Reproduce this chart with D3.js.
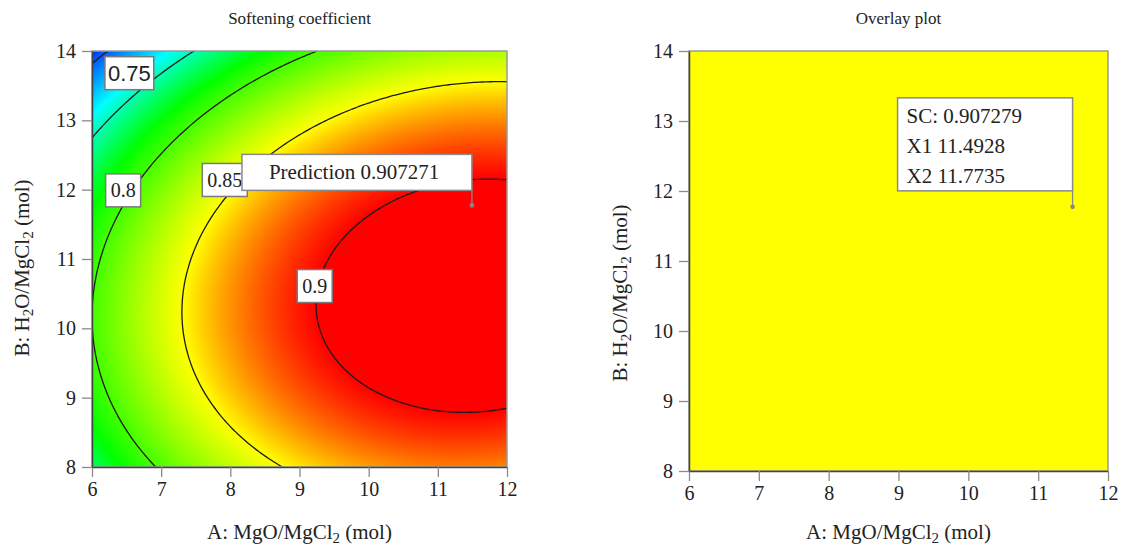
<!DOCTYPE html>
<html lang="en">
<head>
<meta charset="UTF-8">
<title>Softening coefficient / Overlay plot</title>
<script src="https://cdnjs.cloudflare.com/ajax/libs/d3/7.8.5/d3.min.js"></script>
<style>
  body { margin: 0; background: #fff; }
  svg { display: block; font-family: "Liberation Serif", "Times New Roman", serif; }
  .tick line { stroke: #8a8a8a; stroke-width: 1.3; }
  .domain { stroke: #444; stroke-width: 1.5; }
  .title { font-size: 17px; fill: #222; text-anchor: middle; }
  .axis-title { font-size: 21px; fill: #222; text-anchor: middle; }
</style>
</head>
<body>
<svg width="1121" height="546"></svg>
<script>
const aTicks = [6, 7, 8, 9, 10, 11, 12];
const bTicks = [8, 9, 10, 11, 12, 13, 14];
const contourLevels = [0.7, 0.75, 0.8, 0.85, 0.9];

// quadratic response surface, shape estimated from the drawn contours
const peakAt = [11.56, 10.47];          // A, B at the maximum
const peakValue = 0.9211;
const curvature = [0.00394, 0.0075, -0.000825];  // A², B², A·B

const colorStops = [0.69, 0.737, 0.782, 0.85, 0.9];
const colorRange = ["#0030ff", "#00ffff", "#00ff00", "#ffff00", "#ff0000"];

const contourLabels = [
  { text: "0.75", a: 6.54, b: 13.68, sans: true },
  { text: "0.8",  a: 6.45, b: 11.99 },
  { text: "0.85", a: 7.92, b: 12.14 },
  { text: "0.9",  a: 9.22, b: 10.61 }
];
const prediction = { a: 11.4928, b: 11.7735, value: "0.907271", overlay: "0.907279" };

function sc(a, b) {
  const u = a - peakAt[0], v = b - peakAt[1];
  return peakValue - curvature[0] * u * u - curvature[1] * v * v - curvature[2] * u * v;
}

const svg = d3.select("svg");
const color = d3.scaleLinear().domain(colorStops).range(colorRange).clamp(true);
const serif = "'Liberation Serif', 'Times New Roman', serif";

function axisTitle(g, x, y, parts, rotate) {
  const t = g.append("text").attr("class", "axis-title")
    .attr("transform", `translate(${x},${y})` + (rotate ? " rotate(-90)" : ""));
  parts.forEach(([s, sub], i) => {
    const sp = t.append("tspan").text(s);
    if (sub) sp.attr("font-size", "15px").attr("dy", 4);
    else if (i > 0) sp.attr("dy", -4);
  });
}

function panel(left, top, w, h, name) {
  const g = svg.append("g").attr("transform", `translate(${left},${top})`);
  const x = d3.scaleLinear().domain([6, 12]).range([0, w]);
  const y = d3.scaleLinear().domain([8, 14]).range([h, 0]);
  const clipId = "clip-" + name;
  g.append("clipPath").attr("id", clipId).append("rect").attr("width", w).attr("height", h);
  return { g, x, y, w, h, clipId };
}

function styleAxis(sel) {
  sel.selectAll(".tick text")
    .style("font-family", serif).style("font-size", "20px").style("fill", "#222");
}

function frame(p) {
  p.g.append("rect").attr("width", p.w).attr("height", p.h)
    .attr("fill", "none").attr("stroke", "#9a9a9a").attr("stroke-width", 1.5);
  p.g.append("g").attr("transform", `translate(0,${p.h})`)
    .call(d3.axisBottom(p.x).tickValues(aTicks).tickFormat(d3.format("d"))
      .tickSize(10).tickPadding(5).tickSizeOuter(0))
    .call(styleAxis);
  p.g.append("g")
    .call(d3.axisLeft(p.y).tickValues(bTicks).tickFormat(d3.format("d"))
      .tickSize(10).tickPadding(6).tickSizeOuter(0))
    .call(styleAxis);
}

// ---------- left: Softening coefficient ----------
const L = panel(92, 51, 415, 416, "sc");

const cv = document.createElement("canvas");
cv.width = L.w; cv.height = L.h;
const ctx = cv.getContext("2d");
const img = ctx.createImageData(L.w, L.h);
for (let j = 0; j < L.h; j++) {
  for (let i = 0; i < L.w; i++) {
    const c = d3.rgb(color(sc(L.x.invert(i + 0.5), L.y.invert(j + 0.5))));
    const k = (j * L.w + i) * 4;
    img.data[k] = c.r; img.data[k + 1] = c.g; img.data[k + 2] = c.b; img.data[k + 3] = 255;
  }
}
ctx.putImageData(img, 0, 0);
L.g.append("image").attr("width", L.w).attr("height", L.h)
  .attr("preserveAspectRatio", "none").attr("href", cv.toDataURL());

const n = 151, dA = 6 / (n - 1), dB = 6 / (n - 1);
const grid = new Array(n * n);
for (let j = 0; j < n; j++)
  for (let i = 0; i < n; i++) grid[j * n + i] = sc(6 + i * dA, 8 + j * dB);

const proj = d3.geoPath(d3.geoTransform({
  point(px, py) { this.stream.point(L.x(6 + (px - 0.5) * dA), L.y(8 + (py - 0.5) * dB)); }
}));
L.g.append("g").attr("clip-path", `url(#${L.clipId})`)
  .selectAll("path")
  .data(d3.contours().size([n, n]).thresholds(contourLevels)(grid))
  .join("path")
  .attr("d", proj)
  .attr("fill", "none").attr("stroke", "#1a1a1a").attr("stroke-width", 1.3);

frame(L);

contourLabels.forEach(d => {
  const lg = L.g.append("g").attr("transform", `translate(${L.x(d.a)},${L.y(d.b)})`);
  const r = lg.append("rect");
  const t = lg.append("text").attr("text-anchor", "middle").attr("dy", "0.35em")
    .attr("fill", "#222").text(d.text);
  if (d.sans) t.attr("font-family", "'Liberation Sans', Arial, sans-serif").attr("font-size", "22px");
  else t.attr("font-size", "20px");
  const bb = t.node().getBBox();
  const bw = bb.width + (d.sans ? 6 : 10), bh = 33;
  r.attr("x", -bw / 2).attr("y", -bh / 2).attr("width", bw).attr("height", bh)
    .attr("fill", "#fff").attr("stroke", "#7a7a7a").attr("stroke-width", 1.5);
});

{
  const px = L.x(prediction.a), py = L.y(prediction.b);
  const pg = L.g.append("g");
  pg.append("line").attr("x1", px).attr("x2", px).attr("y1", py - 15).attr("y2", py)
    .attr("stroke", "#888").attr("stroke-width", 1.3);
  pg.append("circle").attr("cx", px).attr("cy", py).attr("r", 2.3).attr("fill", "#888");
  pg.append("rect").attr("x", px - 230).attr("y", py - 51).attr("width", 230).attr("height", 36)
    .attr("fill", "#fff").attr("stroke", "#8a8a8a").attr("stroke-width", 1.5);
  pg.append("text").attr("x", px - 203).attr("y", py - 26).attr("font-size", "21px")
    .attr("fill", "#222").text("Prediction " + prediction.value);
}

svg.append("text").attr("class", "title").attr("x", 92 + 415 / 2).attr("y", 24)
  .text("Softening coefficient");
axisTitle(svg, 299.5, 539, [["A: MgO/MgCl"], ["2", true], [" (mol)"]], false);
axisTitle(svg, 29, 268, [["B: H"], ["2", true], ["O/MgCl"], ["2", true], [" (mol)"]], true);

// ---------- right: Overlay plot ----------
const R = panel(689, 51, 419, 420, "ov");
R.g.append("rect").attr("width", R.w).attr("height", R.h).attr("fill", "#ffff00");
frame(R);

{
  const px = R.x(prediction.a), py = R.y(prediction.b);
  const pg = R.g.append("g");
  pg.append("line").attr("x1", px).attr("x2", px).attr("y1", py - 16).attr("y2", py)
    .attr("stroke", "#888").attr("stroke-width", 1.3);
  pg.append("circle").attr("cx", px).attr("cy", py).attr("r", 2.3).attr("fill", "#888");
  const bx = px - 175, by = py - 109;
  pg.append("rect").attr("x", bx).attr("y", by).attr("width", 175).attr("height", 93)
    .attr("fill", "#fff").attr("stroke", "#8a8a8a").attr("stroke-width", 1.5);
  ["SC: " + prediction.overlay, "X1 " + prediction.a, "X2 " + prediction.b].forEach((s, i) => {
    pg.append("text").attr("x", bx + 9).attr("y", by + 25 + i * 30)
      .attr("font-size", "21px").attr("fill", "#222").text(s);
  });
}

svg.append("text").attr("class", "title").attr("x", 689 + 419 / 2).attr("y", 24)
  .text("Overlay plot");
axisTitle(svg, 898.5, 539, [["A: MgO/MgCl"], ["2", true], [" (mol)"]], false);
axisTitle(svg, 627, 293, [["B: H"], ["2", true], ["O/MgCl"], ["2", true], [" (mol)"]], true);
</script>
</body>
</html>
